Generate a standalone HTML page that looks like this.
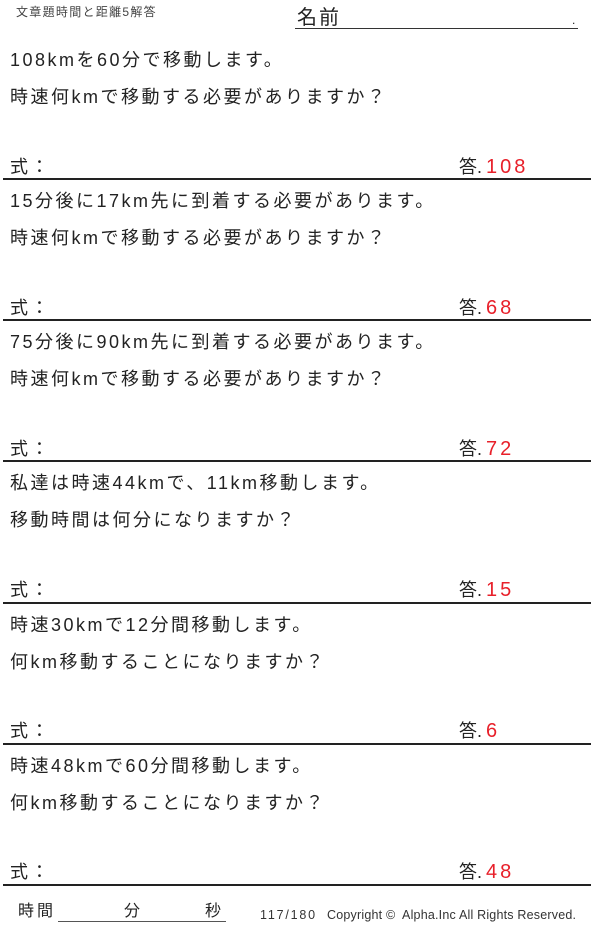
<!DOCTYPE html>
<html><head><meta charset="utf-8"><style>
body{margin:0;width:600px;height:928px;background:#fff;position:relative;font-family:"Liberation Sans","Noto Sans CJK JP",sans-serif;color:#222;overflow:hidden}
.a{position:absolute;white-space:nowrap;line-height:1}
.t{font-size:18px;left:10px;letter-spacing:2.5px}
.hr{position:absolute;left:3px;width:588px;height:2px;background:#222}
.r{color:#e8202a;font-size:20px;letter-spacing:3px}
.q{font-size:18px;left:459px}
.d{font-size:18px;left:477px}
</style></head><body>
<div class="a" style="left:16px;top:6px;font-size:12px;color:#444;letter-spacing:1.3px">文章題時間と距離5解答</div>
<div class="a" style="left:297px;top:8px;font-size:20px;letter-spacing:2px">名前</div>
<div style="position:absolute;left:295px;top:28px;width:283px;height:1px;background:#333"></div>
<div class="a" style="left:572px;top:14px;font-size:12px">.</div>

<div class="a t" style="top:51px">108kmを60分で移動します。</div>
<div class="a t" style="top:88px">時速何kmで移動する必要がありますか？</div>
<div class="a t" style="top:158px">式：</div>
<div class="a q" style="top:158px">答</div><div class="a d" style="top:158px">.</div>
<div class="a r" style="left:486px;top:157px">108</div>
<div class="hr" style="top:178px"></div>

<div class="a t" style="top:192px">15分後に17km先に到着する必要があります。</div>
<div class="a t" style="top:229px">時速何kmで移動する必要がありますか？</div>
<div class="a t" style="top:299px">式：</div>
<div class="a q" style="top:299px">答</div><div class="a d" style="top:299px">.</div>
<div class="a r" style="left:486px;top:298px">68</div>
<div class="hr" style="top:319px"></div>

<div class="a t" style="top:333px">75分後に90km先に到着する必要があります。</div>
<div class="a t" style="top:370px">時速何kmで移動する必要がありますか？</div>
<div class="a t" style="top:440px">式：</div>
<div class="a q" style="top:440px">答</div><div class="a d" style="top:440px">.</div>
<div class="a r" style="left:486px;top:439px">72</div>
<div class="hr" style="top:460px"></div>

<div class="a t" style="top:474px">私達は時速44kmで、11km移動します。</div>
<div class="a t" style="top:511px">移動時間は何分になりますか？</div>
<div class="a t" style="top:581px">式：</div>
<div class="a q" style="top:581px">答</div><div class="a d" style="top:581px">.</div>
<div class="a r" style="left:486px;top:580px">15</div>
<div class="hr" style="top:602px"></div>

<div class="a t" style="top:616px">時速30kmで12分間移動します。</div>
<div class="a t" style="top:653px">何km移動することになりますか？</div>
<div class="a t" style="top:722px">式：</div>
<div class="a q" style="top:722px">答</div><div class="a d" style="top:722px">.</div>
<div class="a r" style="left:486px;top:721px">6</div>
<div class="hr" style="top:743px"></div>

<div class="a t" style="top:757px">時速48kmで60分間移動します。</div>
<div class="a t" style="top:794px">何km移動することになりますか？</div>
<div class="a t" style="top:863px">式：</div>
<div class="a q" style="top:863px">答</div><div class="a d" style="top:863px">.</div>
<div class="a r" style="left:486px;top:862px">48</div>
<div class="hr" style="top:884px"></div>

<div class="a" style="left:18px;top:904px;font-size:16px;letter-spacing:3px">時間</div>
<div style="position:absolute;left:58px;top:921px;width:168px;height:1px;background:#555"></div>
<div class="a" style="left:124px;top:904px;font-size:16px">分</div>
<div class="a" style="left:205px;top:904px;font-size:16px">秒</div>
<div class="a" style="left:260px;top:909px;font-size:12.5px;color:#333;letter-spacing:1.8px">117/180</div>
<div class="a" style="left:327px;top:909px;font-size:12.5px;color:#333;letter-spacing:0.2px">Copyright ©&nbsp; Alpha.Inc All Rights Reserved.</div>
</body></html>
